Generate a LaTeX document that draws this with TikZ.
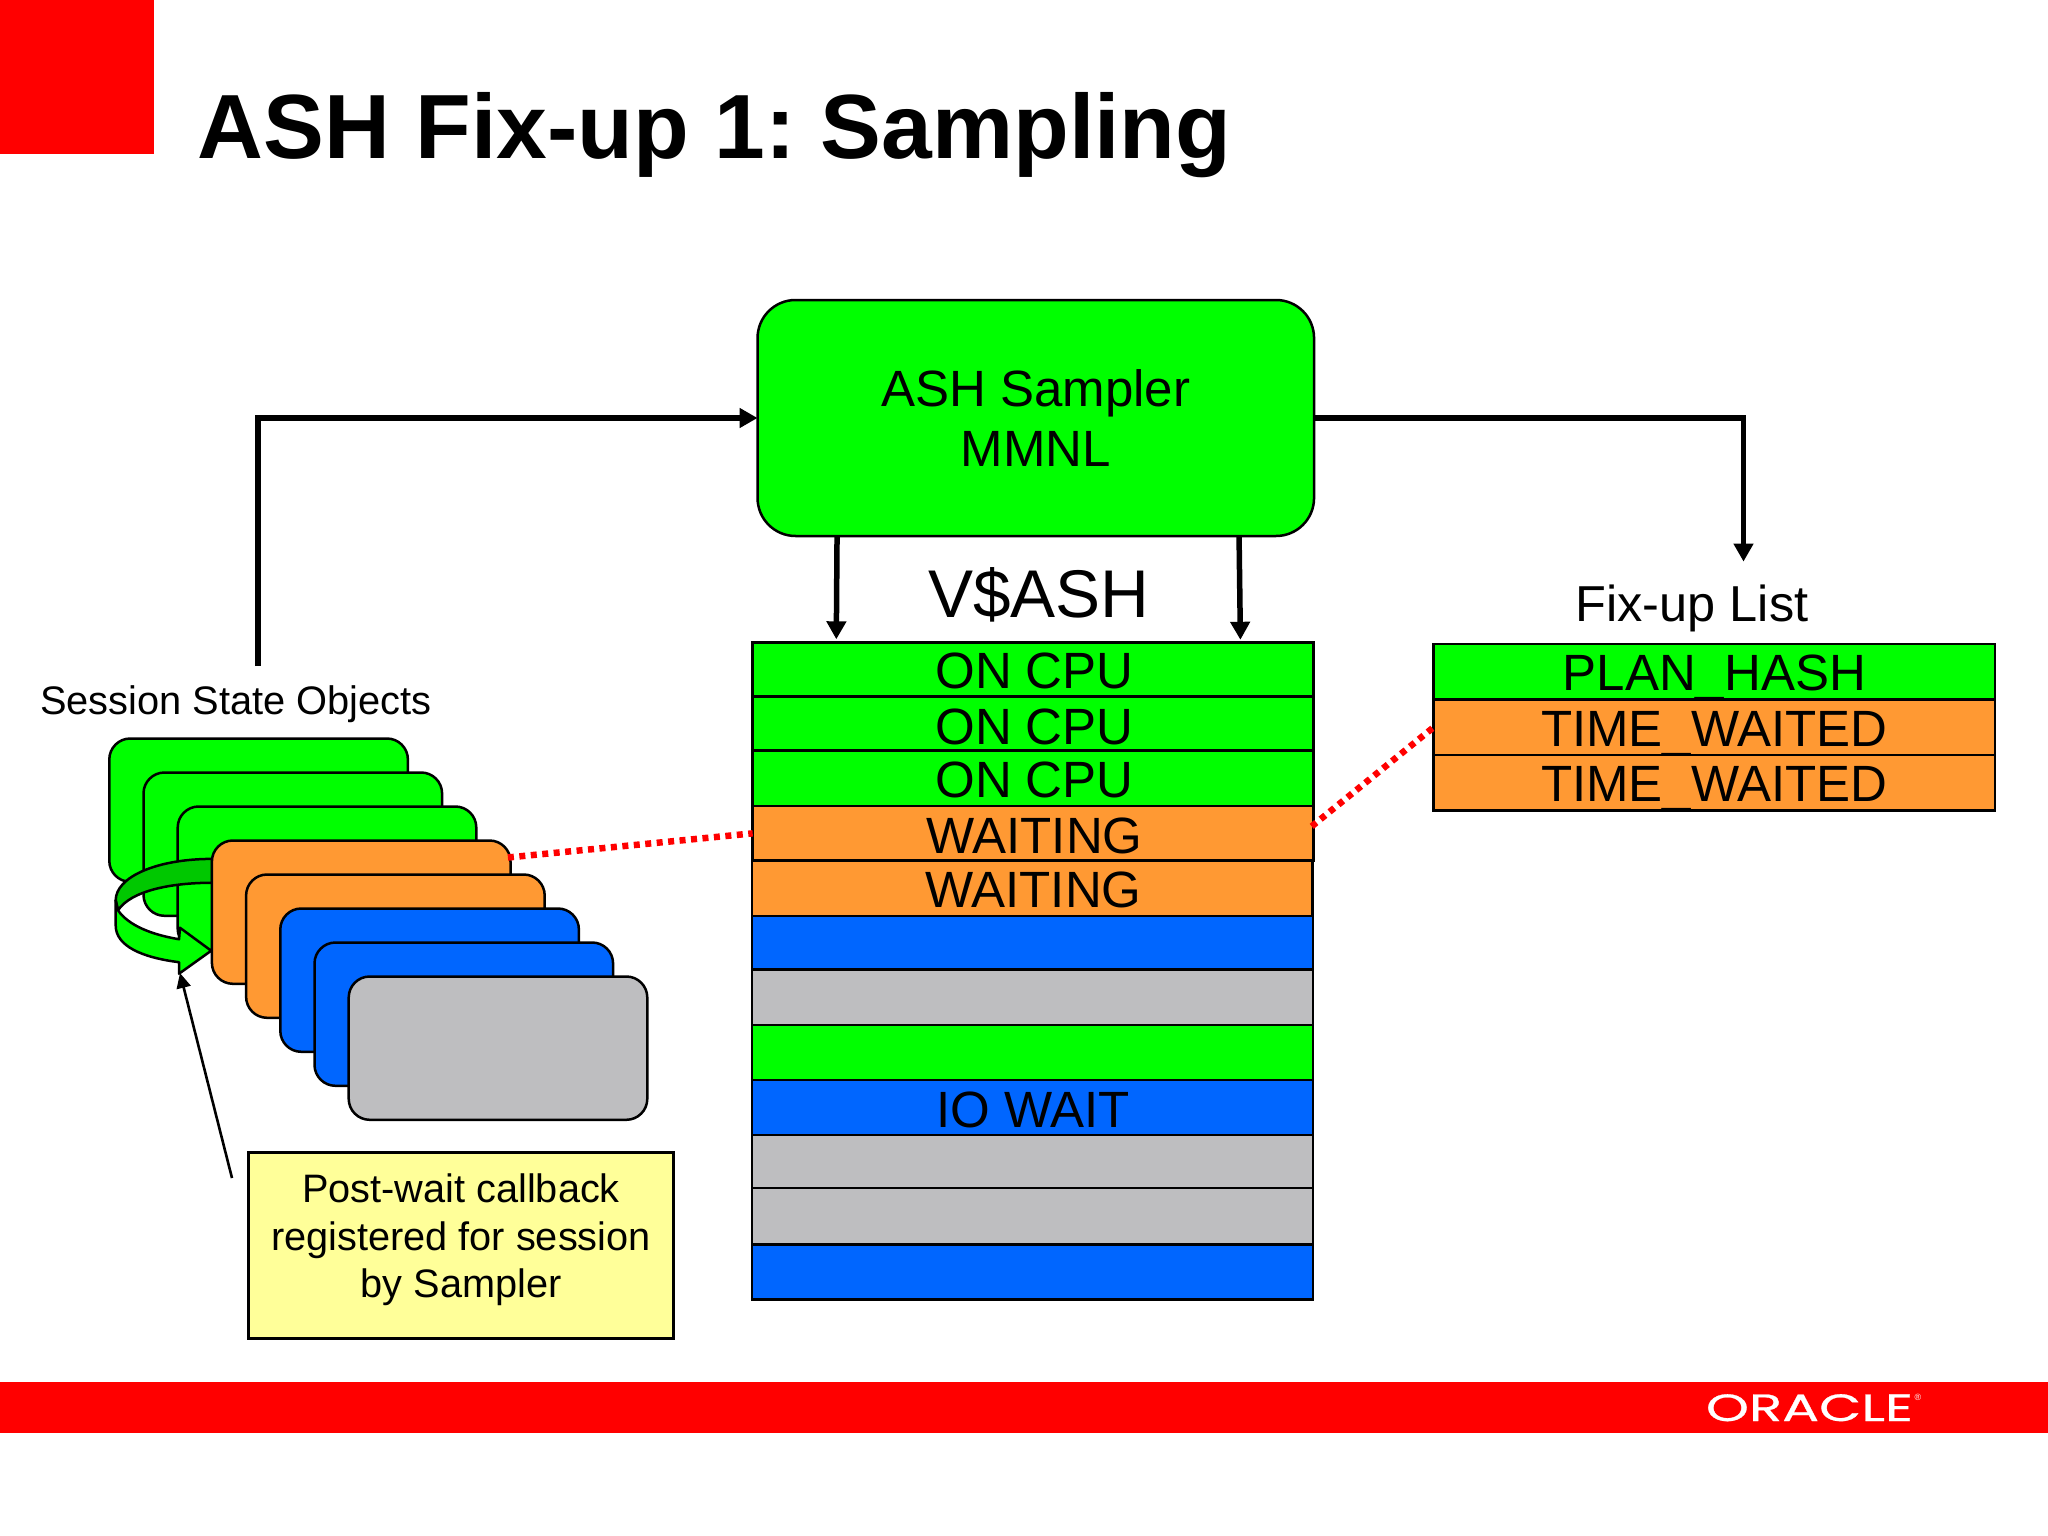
\documentclass[tikz,border=0pt]{standalone}
\usepackage{fontspec}
\setmainfont{Liberation Sans}
\newfontfamily\logofont[FakeBold=0.6]{Poppins}
\usetikzlibrary{arrows.meta}
\definecolor{bgreen}{HTML}{00FF00}
\definecolor{dgreen}{HTML}{00C800}
\definecolor{borange}{HTML}{FF9933}
\definecolor{bblue}{HTML}{0066FF}
\definecolor{bgray}{HTML}{BEBEC0}
\definecolor{byellow}{HTML}{FFFF99}
\definecolor{bred}{HTML}{FF0000}
\frenchspacing
\tikzset{
  x=1pt,y=-1pt,
  sess/.style={draw=black,line width=2.5pt,rounded corners=21pt,minimum width=298.6pt,minimum height=143.3pt,anchor=north west,inner sep=0pt,outer sep=0pt},
  cell/.style={draw=black,line width=2.5pt,anchor=north west,inner sep=0pt,outer sep=0pt,font=\fontsize{51}{60}\selectfont},
  vrow/.style={cell,minimum width=561pt,xshift=0pt},
  frow/.style={cell,minimum width=561.4pt,text height=46.7pt,text depth=8.8pt},
  big/.style={anchor=base,inner sep=0pt},
  flow/.style={line width=5.5pt,black,-{Triangle[width=19pt,length=18pt]}},
  thinflow/.style={line width=2.6pt,black,-{Triangle[width=14pt,length=15pt]}},
  reddots/.style={line width=6.5pt,bred,dash pattern=on 6pt off 5.5pt},
}
\begin{document}
\begin{tikzpicture}
\useasboundingbox (0,0) rectangle (2048,1536);
\fill[white] (0,0) rectangle (2048,1536);
\fill[bred] (0,0) rectangle (154,154);
\fill[bred] (0,1382) rectangle (2048,1433);
\node[big,anchor=base west,font=\fontsize{91.2}{100}\selectfont\bfseries] (title) at (197.5,159) {ASH Fix-up 1: Sampling};
\node[big,anchor=base,text=white] (logo) at (1809.5,1421) {\scalebox{1.44}[1]{\logofont\fontsize{38}{40}\selectfont ORACLE}};
\node[big,text=white,font=\fontsize{9}{10}\selectfont] (logor) at (1918,1400) {®};

% sampler
\node[draw=black,line width=2.5pt,fill=bgreen,rounded corners=38pt,minimum width=556.5pt,minimum height=236pt,inner sep=0pt,outer sep=0pt,align=center,font=\fontsize{51}{60.5}\selectfont] (sampler) at (1035.8,418) {ASH Sampler\\MMNL};

% V$ASH table
\node[big,font=\fontsize{67.5}{72}\selectfont] (vash) at (1039,617.5) {V\$ASH};
\node[vrow,fill=bgreen,text height=45.7pt,text depth=8.7pt] (r1) at (752.7,642.3) {\hspace*{2.6pt}ON CPU};
\node[vrow,fill=bgreen,text height=47.3pt,text depth=6.7pt] (r2) at (752.7,696.7) {\hspace*{2.6pt}ON CPU};
\node[vrow,fill=bgreen,text height=46.3pt,text depth=9pt] (r3) at (752.7,750.7) {\hspace*{2.6pt}ON CPU};
\node[vrow,fill=borange,text height=47pt,text depth=7.7pt] (r4) at (752.7,806) {\hspace*{2.6pt}WAITING};
\node[vrow,fill=borange,minimum width=560.5pt,text height=47pt,text depth=8.3pt] (r5) at (751.8,860.7) {\hspace*{2.6pt}WAITING};
\node[vrow,fill=bblue,minimum height=53.5pt] (r6) at (751.8,916) {};
\node[vrow,fill=bgray,minimum height=55.5pt] (r7) at (751.8,969.5) {};
\node[vrow,fill=bgreen,minimum height=55pt] (r8) at (751.8,1025) {};
\node[vrow,fill=bblue,text height=47pt,text depth=8pt] (r9) at (751.8,1080) {\hspace*{1.3pt}IO WAIT};
\node[vrow,fill=bgray,minimum height=53pt] (r10) at (751.8,1135) {};
\node[vrow,fill=bgray,minimum height=56.5pt] (r11) at (751.8,1188) {};
\node[vrow,fill=bblue,minimum height=55pt] (r12) at (751.8,1244.5) {};

% fix-up list
\node[big,font=\fontsize{50.5}{60}\selectfont] (fixlabel) at (1692,621.7) {Fix-up List};
\node[frow,fill=bgreen] (f1) at (1433.6,644) {PLAN\_HASH};
\node[frow,fill=borange] (f2) at (1433.6,699.5) {TIME\_WAITED};
\node[frow,fill=borange] (f3) at (1433.6,755) {TIME\_WAITED};

% session objects
\node[big,font=\fontsize{39.8}{48}\selectfont] (sesslabel) at (235.8,714.6) {Session State Objects};
\node[sess,fill=bgreen] (s0) at (109.3,738.5) {};
\node[sess,fill=bgreen] (s1) at (143.5,772.5) {};
\node[sess,fill=bgreen] (s2) at (177.7,806.5) {};

% circular arrow, in the coordinates of a 2.178x view
\begin{scope}[shift={(0,650)},x=0.4591pt,y=-0.4591pt,line width=2.5pt,line join=round]
\filldraw[fill=dgreen,draw=black] (462,455) .. controls (340,455) and (252,495) .. (252,545) -- (257,567) .. controls (285,525) and (370,507) .. (462,507) -- cycle;
\filldraw[fill=bgreen,draw=black] (252,545) -- (252,600) .. controls (252,645) and (310,670) .. (390,680) -- (390,705) -- (460,655) -- (392,605) -- (390,630) .. controls (330,620) and (280,600) .. (257,567) -- cycle;
\end{scope}

\node[sess,fill=borange] (s3) at (211.9,840.5) {};
\node[sess,fill=borange] (s4) at (246.1,874.5) {};
\node[sess,fill=bblue] (s5) at (280.3,908.5) {};
\node[sess,fill=bblue] (s6) at (314.5,942.5) {};
\node[sess,fill=bgray] (s7) at (348.7,976.5) {};

\node[draw=black,line width=2.5pt,fill=byellow,minimum width=425.2pt,minimum height=186pt,inner sep=0pt,outer sep=0pt,align=center,font=\fontsize{39.7}{47.7}\selectfont] (note) at (461,1245.7) {Post-wait callback\\registered for session\\by Sampler\rule[-20pt]{0pt}{1pt}};

% connectors
\coordinate (loopstart) at (258,666);
\coordinate (listend) at (1743.5,561.6);
\coordinate (notestart) at (232,1178);
\coordinate (calltip) at (180,973);
\draw[flow] (loopstart) |- (sampler.west);
\draw[flow] (sampler.east) -| (listend);
\draw[flow] ([shift={(79.5,0)}]sampler.south west) -- ([shift={(83.6,-3)}]r1.north west);
\draw[flow] ([shift={(481.5,0)}]sampler.south west) -- ([shift={(487.7,-2.5)}]r1.north west);
\draw[thinflow] (notestart) -- (calltip);
\draw[reddots] ([shift={(-2.6,17)}]s3.north east) -- (r4.west);
\draw[reddots] ([shift={(-2,-7)}]r4.east) -- (f2.west);
\end{tikzpicture}
\end{document}
